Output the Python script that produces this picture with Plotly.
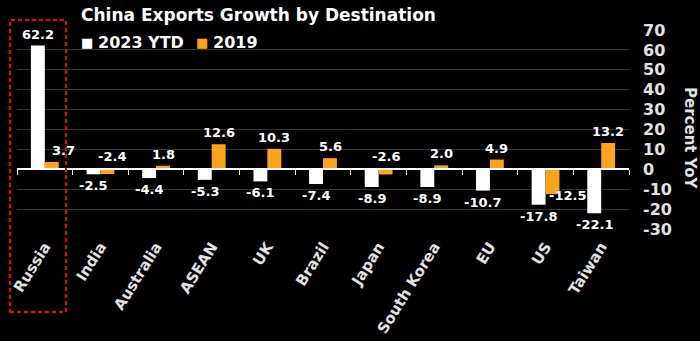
import plotly.graph_objects as go

# Export growth by destination, percent year on year
categories = ["Russia", "India", "Australia", "ASEAN", "UK", "Brazil",
              "Japan", "South Korea", "EU", "US", "Taiwan"]
ytd_2023 = [62.2, -2.5, -4.4, -5.3, -6.1, -7.4, -8.9, -8.9, -10.7, -17.8, -22.1]
yr_2019 = [3.7, -2.4, 1.8, 12.6, 10.3, 5.6, -2.6, 2.0, 4.9, -12.5, 13.2]
y_ticks = [70, 60, 50, 40, 30, 20, 10, 0, -10, -20, -30]
series_names = ["2023 YTD", "2019"]

WHITE = "#ffffff"
ORANGE = "#ffa31a"
GRID = "#333333"
TICKTXT = "#e2e2e2"
FONT = "DejaVu Sans"

W, H = 700, 341
ML, MR, MT, MB = 17, 71, 30, 112
PW, PH = W - ML - MR, H - MT - MB
Y0, Y1 = -30, 70


def px_x(px):
    return (px - ML) / PW


def px_y(py):
    return (H - MB - py) / PH


fig = go.Figure()
fig.add_bar(name=series_names[0], x=categories, y=ytd_2023, marker_color=WHITE,
            marker_line_width=0, hoverinfo="skip")
fig.add_bar(name=series_names[1], x=categories, y=yr_2019, marker_color=ORANGE,
            marker_line_width=0, hoverinfo="skip")
# carrier trace for the zero-line axis with boundary ticks
fig.add_scatter(x=categories, y=[0] * len(categories), mode="none",
                xaxis="x2", showlegend=False, hoverinfo="skip")

# value labels: above positive bars, below negative ones, with a few
# placed where there is room
half = 7
label_font = dict(family=FONT, size=13, color=WHITE, weight="bold")


def add_label(cat, val, xshift, where="auto", dx=0):
    if where == "zero":
        y, anchor, ys = 0, "bottom", 3
    elif where == "side":
        y, anchor, ys = val, "middle", -1
    elif val >= 0:
        y, anchor, ys = val, "bottom", 2
    else:
        y, anchor, ys = val, "top", -2
    fig.add_annotation(x=cat, y=y, text=f"{val:.1f}", showarrow=False,
                       xshift=xshift + dx, yshift=ys, yanchor=anchor,
                       xanchor="left" if where == "side" else "center",
                       font=label_font)


for c, v in zip(categories, ytd_2023):
    add_label(c, v, -half)

special_2019 = {"Russia": ("auto", 12), "India": ("zero", 5),
                "Japan": ("zero", 0), "US": ("side", -6)}
for c, v in zip(categories, yr_2019):
    where, dx = special_2019.get(c, ("auto", 0))
    add_label(c, v, half, where, dx)

# compact key under the title: small square swatch + series name
for name, color, sq_x in zip(series_names, [WHITE, ORANGE], [87, 202]):
    fig.add_annotation(xref="paper", yref="paper", x=px_x(sq_x), y=px_y(42),
                       text="■", showarrow=False, xanchor="center",
                       yanchor="middle",
                       font=dict(family=FONT, size=13, color=color))
    fig.add_annotation(xref="paper", yref="paper", x=px_x(sq_x + 9),
                       y=px_y(42), text=name, showarrow=False,
                       xanchor="left", yanchor="middle",
                       font=dict(family=FONT, size=16, color=WHITE,
                                 weight="bold"))

# axis title on the right, reading downwards
fig.add_annotation(xref="paper", yref="paper", x=px_x(690), y=px_y(138),
                   text="Percent YoY", textangle=90,
                   showarrow=False, xanchor="center", yanchor="middle",
                   font=dict(family=FONT, size=15, color=TICKTXT, weight="bold"))

# dashed highlight around Russia
fig.add_shape(type="rect", xref="paper", yref="paper",
              x0=px_x(10), x1=px_x(66), y0=px_y(312), y1=px_y(20),
              line=dict(color="#ff0000", width=2, dash="4px,3px"))

fig.update_layout(
    width=W, height=H,
    margin=dict(l=ML, r=MR, t=MT, b=MB, autoexpand=False),
    paper_bgcolor="#000000", plot_bgcolor="#000000",
    barmode="group", bargap=0.5, bargroupgap=0,
    showlegend=False,
    title=dict(text="<b>China Exports Growth by Destination</b>",
               x=81 / W, xanchor="left", y=1 - 15 / H, yanchor="middle",
               font=dict(family=FONT, size=17, color=WHITE)),
    xaxis=dict(type="category", categoryorder="array", categoryarray=categories,
               range=[-0.5, len(categories) - 0.5],
               showgrid=False, zeroline=False, showline=False, ticks="",
               tickangle=-58, ticklabelstandoff=5,
               tickfont=dict(family=FONT, size=15, color=TICKTXT, weight="bold")),
    xaxis2=dict(type="category", categoryorder="array", categoryarray=categories,
                range=[-0.5, len(categories) - 0.5],
                overlaying="x", anchor="free",
                position=(0 - Y0) / (Y1 - Y0),
                showline=True, linecolor=WHITE, linewidth=1.5,
                ticks="outside", tickson="boundaries", ticklen=5,
                tickcolor=WHITE, tickwidth=1,
                showticklabels=False, showgrid=False, zeroline=False),
    yaxis=dict(side="right", range=[Y0, Y1], tickmode="array",
               tickvals=y_ticks, ticktext=[str(t) for t in y_ticks],
               showgrid=True, gridcolor=GRID, gridwidth=1,
               zeroline=False, showline=False, ticks="",
               ticklabelstandoff=13,
               tickfont=dict(family=FONT, size=16, color=TICKTXT, weight="bold")),
)

fig.write_html("out.html")
